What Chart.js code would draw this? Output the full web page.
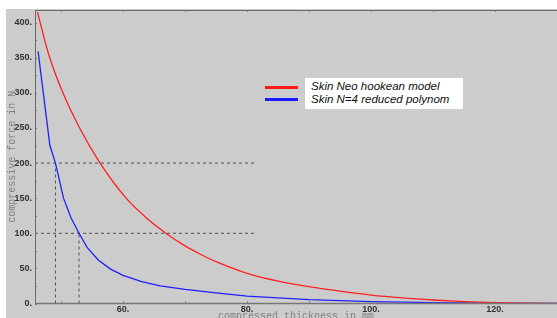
<!DOCTYPE html>
<html>
<head>
<meta charset="utf-8">
<script src="https://cdn.jsdelivr.net/npm/chart.js@4/dist/chart.umd.min.js"></script>
<style>
  html, body { margin: 0; padding: 0; background: #ffffff; }
  #wrap { position: relative; width: 557px; height: 318px; overflow: hidden; }
  canvas { position: absolute; left: 0; top: 0; }
  #legend { position: absolute; left: 305px; top: 78px; width: 158px; height: 31px; background: #ffffff;
            font-family: "Liberation Sans", Arial, sans-serif; font-style: italic; font-size: 11.5px; color: #111; }
  #legend div.t { position: absolute; left: 6px; white-space: nowrap; line-height: 13px; }
  .sw { position: absolute; left: 265px; width: 33px; height: 3px; }
</style>
</head>
<body>
<div id="wrap">
  <canvas id="c" width="557" height="318"></canvas>
  <div class="sw" style="top:86px;background:#ff1a1a"></div>
  <div class="sw" style="top:98px;background:#1a1aff"></div>
  <div id="legend">
    <div class="t" style="top:2px">Skin Neo hookean model</div>
    <div class="t" style="top:15px">Skin N=4 reduced polynom</div>
  </div>
</div>
<script>
// ---- data ----
const neoThickness = [46.2, 48.0, 50.3, 53.0, 56.3, 60.5, 63.5, 66.9, 70.0, 72.4, 75.0, 80.0, 85.0, 90.0, 95.0, 100.0, 105.0, 110.0, 115.0, 120.0, 125.0, 130.0];
const neoForce     = [415, 355, 300, 250, 200, 150, 124, 100, 82, 70.5, 59.5, 43, 32, 24, 17.5, 12, 8, 5, 2.7, 1.2, 0.4, 0];
const polyThickness = [46.3, 48.2, 49.1, 50.4, 51.6, 52.9, 54.2, 56.0, 58.0, 60.0, 63.0, 66.0, 70.0, 75.0, 80.0, 90.0, 100.0, 110.0, 120.0, 130.0];
const polyForce     = [359, 225, 200, 150, 122, 100, 80, 62, 49, 40, 31, 25, 20, 15, 10.5, 5.5, 2.8, 1.2, 0.4, 0];
const guideForces = [200, 100];
const guideThicknesses = [49.1, 52.9];
const guideEnd = 81.2;
const xTicks = [50, 60, 70, 80, 90, 100, 110, 120];
const xLabelled = [60, 80, 100, 120];
const yTicks = [0, 25, 50, 75, 100, 125, 150, 175, 200, 225, 250, 275, 300, 325, 350, 375, 400];
const yLabelled = [0, 50, 100, 150, 200, 250, 300, 350, 400];
const seriesNames = ['Skin Neo hookean model', 'Skin N=4 reduced polynom'];
const X_MIN = 45.8, X_MAX = 130, Y_MIN = 0, Y_MAX = 418;

const toPts = (xs, ys) => xs.map((x, i) => ({x, y: ys[i]}));
const guideSets = [];
guideForces.forEach((f, i) => {
  guideSets.push({ data: [{x: X_MIN, y: f}, {x: guideEnd, y: f}] });
  guideSets.push({ data: [{x: guideThicknesses[i], y: 0}, {x: guideThicknesses[i], y: f}] });
});

const bgPlugin = {
  id: 'bg',
  beforeDraw(chart) {
    const ctx = chart.ctx;
    ctx.save();
    ctx.fillStyle = '#ffffff';
    ctx.fillRect(0, 0, chart.width, chart.height);
    ctx.fillStyle = '#cccccc';
    ctx.fillRect(6, 9, chart.width - 6, chart.height - 9);
    ctx.restore();
  },
  afterDraw(chart) {
    const {ctx, chartArea: a, scales: {x, y}} = chart;
    ctx.save();
    ctx.strokeStyle = '#6a6a6a';
    ctx.lineWidth = 1;
    ctx.beginPath();
    ctx.moveTo(Math.round(a.left) + 0.5, Math.round(a.top) + 0.5);
    ctx.lineTo(a.right, Math.round(a.top) + 0.5);
    ctx.moveTo(Math.round(a.left) + 0.5, Math.round(a.top) + 0.5);
    ctx.lineTo(Math.round(a.left) + 0.5, a.bottom);
    ctx.stroke();
    ctx.strokeStyle = '#777777';
    ctx.lineWidth = 1.5;
    ctx.beginPath();
    ctx.moveTo(a.left, a.bottom);
    ctx.lineTo(a.right, a.bottom);
    ctx.stroke();
    ctx.strokeStyle = '#777777';
    ctx.lineWidth = 1;
    ctx.beginPath();
    x.ticks.forEach(t => {
      const px = Math.round(x.getPixelForValue(t.value)) + 0.5;
      ctx.moveTo(px, a.bottom); ctx.lineTo(px, a.bottom - 2);
      ctx.moveTo(px, a.top); ctx.lineTo(px, a.top + 2);
    });
    y.ticks.forEach(t => {
      const py = Math.round(y.getPixelForValue(t.value)) + 0.5;
      ctx.moveTo(a.left, py); ctx.lineTo(a.left + 2, py);
    });
    ctx.stroke();
    ctx.restore();
  }
};

new Chart(document.getElementById('c'), {
  type: 'line',
  data: {
    datasets: [
      { label: seriesNames[0], data: toPts(neoThickness, neoForce), borderColor: '#ff2020', borderWidth: 1.3,
        pointRadius: 0, cubicInterpolationMode: 'monotone', fill: false },
      { label: seriesNames[1], data: toPts(polyThickness, polyForce), borderColor: '#2020ff', borderWidth: 1.3,
        pointRadius: 0, tension: 0, fill: false },
      ...guideSets.map(g => ({ label: 'guide', data: g.data, borderColor: '#505050', borderWidth: 1,
        borderDash: [3, 3], pointRadius: 0, tension: 0, fill: false }))
    ]
  },
  options: {
    responsive: false,
    animation: false,
    layout: { padding: { left: 0, top: 10, right: 0, bottom: 0 } },
    plugins: { legend: { display: false }, tooltip: { enabled: false } },
    scales: {
      x: {
        type: 'linear', min: X_MIN, max: X_MAX,
        afterBuildTicks: s => { s.ticks = xTicks.map(v => ({value: v})); },
        afterFit: s => { s.height = 14.5; },
        grid: { display: false, drawTicks: false },
        border: { display: false },
        ticks: { padding: 1, color: '#333333', maxRotation: 0, autoSkip: false,
          font: { family: '"Liberation Sans", Arial, sans-serif', size: 9, weight: 'bold' },
          callback: v => xLabelled.includes(v) ? v + '.' : '' },
        title: { display: true, text: 'compressed thickness in mm', color: '#808080',
          font: { family: '"Liberation Mono", "DejaVu Sans Mono", monospace', size: 10 },
          padding: { top: 0, bottom: -4 } }
      },
      y: {
        type: 'linear', min: Y_MIN, max: Y_MAX,
        afterBuildTicks: s => { s.ticks = yTicks.map(v => ({value: v})); },
        afterFit: s => { s.width = 35; },
        grid: { display: false, drawTicks: false },
        border: { display: false },
        ticks: { padding: 3, color: '#333333', autoSkip: false,
          font: { family: '"Liberation Sans", Arial, sans-serif', size: 9, weight: 'bold' },
          callback: v => yLabelled.includes(v) ? v + '.' : '' },
        title: { display: true, text: 'compressive force in N', color: '#808080',
          font: { family: '"Liberation Mono", "DejaVu Sans Mono", monospace', size: 10 },
          padding: { top: 6, bottom: 0 } }
      }
    }
  },
  plugins: [bgPlugin]
});
</script>
</body>
</html>
